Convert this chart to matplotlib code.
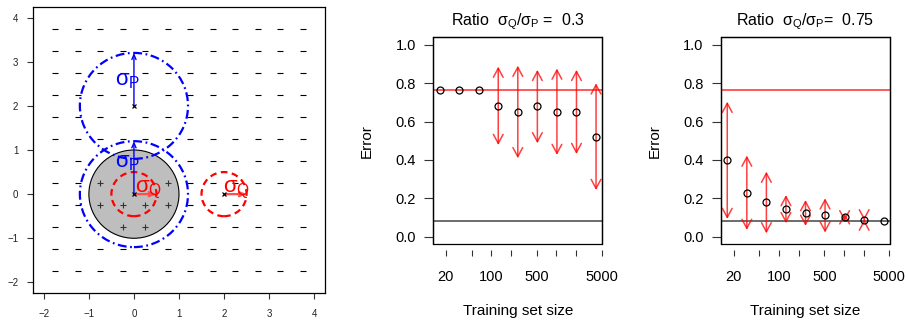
import numpy as np
import matplotlib
matplotlib.use("Agg")
import matplotlib.pyplot as plt
from matplotlib.patches import Circle, Rectangle

plt.rcParams['font.family'] = ['Liberation Sans', 'DejaVu Sans']
plt.rcParams['mathtext.fontset'] = 'custom'
plt.rcParams['mathtext.rm'] = 'Liberation Sans'
plt.rcParams['mathtext.it'] = 'Liberation Sans'
plt.rcParams['mathtext.bf'] = 'Liberation Sans:bold'

# ---------------- data ----------------
grid_vals = [-1.75, -1.25, -0.75, -0.25, 0.25, 0.75, 1.25, 1.75, 2.25, 2.75, 3.25, 3.75]
plus_x = [-0.75, 0.75, -0.75, -0.25, 0.25, 0.75, -0.25, 0.25]
plus_y = [0.25, 0.25, -0.25, -0.25, -0.25, -0.25, -0.75, -0.75]
centers_x = [0, 0, 2]
centers_y = [2, 0, 0]
sigma_P = 1.2
sigma_Q = 0.5
inner_radius = 1.0

sizes = [16, 32, 64, 128, 256, 512, 1024, 2048, 4096]
err_03 = [0.765, 0.765, 0.765, 0.683, 0.650, 0.680, 0.651, 0.650, 0.522]
lo_03 = [0.765, 0.765, 0.765, 0.478, 0.409, 0.487, 0.426, 0.431, 0.243]
hi_03 = [0.765, 0.765, 0.765, 0.887, 0.892, 0.870, 0.877, 0.870, 0.800]
err_075 = [0.400, 0.230, 0.179, 0.143, 0.125, 0.113, 0.101, 0.087, 0.083]
lo_075 = [0.092, 0.035, 0.017, 0.070, 0.056, 0.021, 0.080, 0.085, 0.083]
hi_075 = [0.704, 0.423, 0.339, 0.217, 0.191, 0.200, 0.122, 0.089, 0.083]
baseline_err = 0.765
bayes_err = 0.083
x_ticks = [20, 50, 100, 200, 500, 1000, 2000, 5000]
x_ticklabels = ['20', '', '100', '', '500', '', '', '5000']
y_ticks = [0.0, 0.2, 0.4, 0.6, 0.8, 1.0]

# ---------------- figure ----------------
W, H = 909, 320
fig = plt.figure(figsize=(W / 100, H / 100), dpi=100)

# ---- left panel ----
ax1 = fig.add_axes([33 / W, 27 / H, 292 / W, 286 / H])
ax1.set_xlim(-2.24, 4.24)
ax1.set_ylim(-2.24, 4.24)
ax1.set_xticks(range(-2, 5))
ax1.set_yticks(range(-2, 5))
ax1.tick_params(labelsize=7, length=4.5, width=0.8, pad=6, color='#333333',
                labelcolor='#222222')
ax1.tick_params(axis='x', pad=7)
for s in ax1.spines.values():
    s.set_linewidth(0.9)

ax1.add_patch(Circle((0, 0), inner_radius, facecolor='#BEBEBE', edgecolor='black',
                     lw=0.8, zorder=1))

gx, gy = np.meshgrid(grid_vals, grid_vals)
gx = gx.ravel(); gy = gy.ravel()
mask = np.hypot(gx, gy) > sigma_P
ax1.plot(gx[mask], gy[mask], ls='none', marker='_', ms=5, mew=0.8, color='black', zorder=2)
ax1.plot(plus_x, plus_y, ls='none', marker='+', ms=4.5, mew=0.8, color='#333333', zorder=2)

for cx, cy in [(centers_x[0], centers_y[0]), (centers_x[1], centers_y[1])]:
    ax1.add_patch(Circle((cx, cy), sigma_P, fill=False, edgecolor='blue', lw=1.6,
                         linestyle=(0, (4, 1.6, 0.8, 1.6)), zorder=3))
for cx, cy in [(centers_x[1], centers_y[1]), (centers_x[2], centers_y[2])]:
    ax1.add_patch(Circle((cx, cy), sigma_Q, fill=False, edgecolor='red', lw=1.6,
                         linestyle=(0, (3, 2)), zorder=3))

ax1.plot(centers_x, centers_y, ls='none', marker='x', ms=3.5, mew=0.9, color='black', zorder=5)

# sigma_P arrows
for cx, cy in [(centers_x[0], centers_y[0]), (centers_x[1], centers_y[1])]:
    ax1.annotate('', xy=(cx, cy + sigma_P), xytext=(cx, cy),
                 arrowprops=dict(arrowstyle='->,head_length=0.35,head_width=0.15',
                                 color='blue', lw=1.0, shrinkA=0, shrinkB=0), zorder=4)
# sigma_Q arrows
for cx, cy in [(centers_x[1], centers_y[1]), (centers_x[2], centers_y[2])]:
    ax1.annotate('', xy=(cx + sigma_Q, cy), xytext=(cx, cy),
                 arrowprops=dict(arrowstyle='->,head_length=0.35,head_width=0.15',
                                 color=(1, 0.3, 0.3), lw=1.6, shrinkA=0, shrinkB=0), zorder=4)

ax1.text(-0.42, 2.46, r'$\sigma_P$', color='blue', fontsize=16, ha='left', va='baseline', zorder=6)
ax1.text(-0.42, 0.61, r'$\sigma_P$', color='blue', fontsize=16, ha='left', va='baseline', zorder=6)
ax1.text(0.02, 0.04, r'$\sigma_Q$', color='red', fontsize=16, ha='left', va='baseline', zorder=6)
ax1.text(1.97, 0.04, r'$\sigma_Q$', color='red', fontsize=16, ha='left', va='baseline', zorder=6)


# ---- right-hand panels ----
def error_panel(left_px, err, lo, hi, title):
    ax = fig.add_axes([left_px / W, (H - 244.3) / H, 169 / W, 207 / H])
    ax.set_xscale('log')
    ext = 10 ** (0.04 * np.log10(sizes[-1] / sizes[0]))
    ax.set_xlim(sizes[0] / ext, sizes[-1] * ext)
    ax.set_ylim(-0.04, 1.04)
    ax.axhline(baseline_err, color=(1, 0.35, 0.35), lw=1.4, zorder=1)
    ax.axhline(bayes_err, color='#444444', lw=1.1, zorder=1)
    for x, l, h in zip(sizes, lo, hi):
        if h - l > 1e-9:
            ax.annotate('', xy=(x, h), xytext=(x, l),
                        arrowprops=dict(arrowstyle='<->,head_length=0.65,head_width=0.35',
                                        color=(1, 0, 0, 0.75), lw=1.1,
                                        shrinkA=0, shrinkB=0, mutation_scale=10),
                        zorder=2)
    ax.plot(sizes, err, ls='none', marker='o', ms=5, mfc='none', mec='black', mew=0.9, zorder=3)
    ax.set_xticks(x_ticks)
    ax.set_xticklabels(x_ticklabels)
    ax.minorticks_off()
    ax.set_yticks(y_ticks)
    ax.set_yticklabels([f'{v:.1f}' for v in y_ticks])
    ax.tick_params(axis='x', labelsize=10.5, length=4.5, width=0.8, pad=10, color='#333333')
    ax.tick_params(axis='y', labelsize=10.5, length=6.5, width=0.8, pad=6, color='#333333')
    for s in ax.spines.values():
        s.set_linewidth(0.9)
    ax.spines['bottom'].set_position(('outward', 4))
    ax.spines['bottom'].set_color('none')
    ax.add_patch(Rectangle((0, 0), 1, 1, transform=ax.transAxes, fill=False,
                           edgecolor='black', lw=0.9, clip_on=False, zorder=5))
    ax.set_xlabel('Training set size', fontsize=11)
    ax.xaxis.set_label_coords(0.5, -0.29)
    ax.set_ylabel('Error', fontsize=11)
    ax.yaxis.set_label_coords(-0.35, 0.5)
    ax.set_title(title, fontsize=11.5, pad=9)
    return ax


ax2 = error_panel(433.3, err_03, lo_03, hi_03, r'Ratio  $\sigma_Q/\sigma_P$ =  0.3')
ax3 = error_panel(721, err_075, lo_075, hi_075, r'Ratio  $\sigma_Q/\sigma_P$=  0.75')

fig.savefig('out.png', dpi=100)
